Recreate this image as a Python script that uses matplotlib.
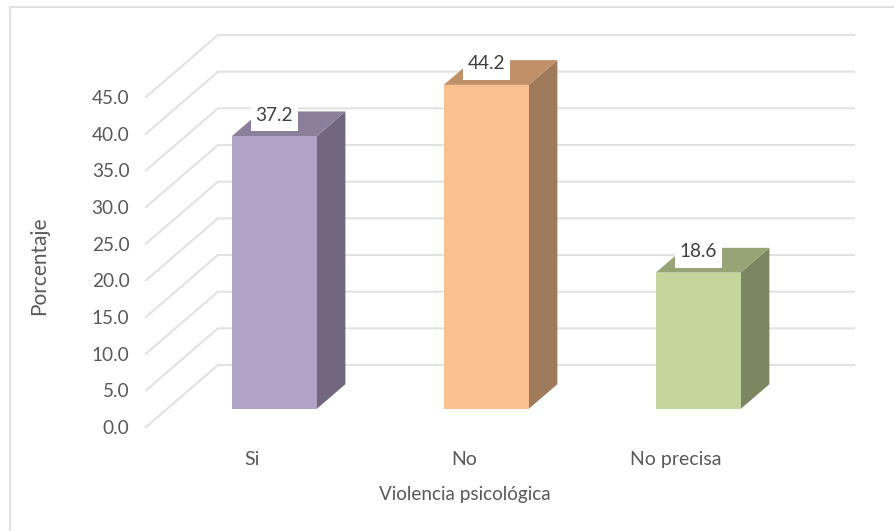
import matplotlib
matplotlib.use("Agg")
import matplotlib.pyplot as plt
from matplotlib.patches import Polygon, Rectangle

categories = ["Si", "No", "No precisa"]
values = [37.2, 44.2, 18.6]
y_ticks = [0, 5, 10, 15, 20, 25, 30, 35, 40, 45]

FRONT = ["#B3A2C7", "#FAC090", "#C3D69B"]
SIDE = ["#72677F", "#9F7B5C", "#7C8762"]
TOP = ["#8C7F9C", "#C09169", "#97A576"]
GRID = "#E2E2E2"
TEXT = "#595959"

W, H = 894, 531
plt.rcParams["font.family"] = ["Lato", "DejaVu Sans"]

fig = plt.figure(figsize=(W / 100, H / 100), dpi=100)
# axes box is the front plane of the 3D floor, in pixels
ax = fig.add_axes([146 / W, 1 - 427 / H, 636 / W, 330 / H])
ax.set_xlim(-0.5, 2.5)
ax.set_ylim(0, 45)
ax.patch.set_visible(False)
for s in ax.spines.values():
    s.set_visible(False)

px_x = 3 / 636      # one pixel in data units
px_y = 45 / 330

# depth of the whole plot, in data units
depth_x = 72 * px_x
depth_y = 62 * px_y
bar_w = 0.40
bar_z0 = 0.29   # bar front, as a fraction of the depth
bar_z1 = 0.69   # bar back
nudge = 1.3 * px_x

for t in y_ticks:
    ax.plot([-0.5, -0.5 + depth_x, 2.5 + depth_x], [t, t + depth_y, t + depth_y],
            color=GRID, lw=1.5, clip_on=False, zorder=1, solid_joinstyle="miter")

for i, v in enumerate(values):
    x0 = i - bar_w / 2 + bar_z0 * depth_x + nudge
    x1 = x0 + bar_w
    y0 = bar_z0 * depth_y
    y1 = y0 + v
    dx = (bar_z1 - bar_z0) * depth_x
    dy = (bar_z1 - bar_z0) * depth_y
    ax.add_patch(Polygon([(x1, y0), (x1 + dx, y0 + dy), (x1 + dx, y1 + dy), (x1, y1)],
                         fc=SIDE[i], ec="none", clip_on=False, zorder=3))
    ax.add_patch(Polygon([(x0, y1), (x0 + dx, y1 + dy), (x1 + dx, y1 + dy), (x1, y1)],
                         fc=TOP[i], ec="none", clip_on=False, zorder=3))
    ax.add_patch(Polygon([(x0, y0), (x1, y0), (x1, y1), (x0, y1)],
                         fc=FRONT[i], ec="none", clip_on=False, zorder=4))
    # white label box sits just above the front face
    xc = (x0 + x1) / 2
    ax.add_patch(Rectangle((xc - 23.5 * px_x, y1 + 5 * px_y), 47 * px_x, 32 * px_y,
                           fc="white", ec="none", clip_on=False, zorder=5))
    ax.text(xc, y1 + 21 * px_y, f"{v:.1f}", ha="center", va="center", fontsize=13.7,
            color="#404040", zorder=6)

ax.set_xticks(range(len(categories)))
ax.set_xticklabels(categories, fontsize=14, color=TEXT)
ax.set_yticks(y_ticks)
ax.set_yticklabels([f"{t:.1f}" for t in y_ticks], fontsize=13.7, color=TEXT)
ax.tick_params(axis="both", length=0)
ax.tick_params(axis="x", pad=17)
ax.tick_params(axis="y", pad=12)

ax.set_xlabel("Violencia psicológica", fontsize=13.6, color=TEXT)
ax.xaxis.set_label_coords(319 / 636, -59 / 330)
ax.set_ylabel("Porcentaje", fontsize=15, color=TEXT)
ax.yaxis.set_label_coords(-97 / 636, 0.49)

# chart frame, cropped at the bottom and right of the screenshot
fig.add_artist(plt.Line2D([10 / W, 10 / W, 1.0], [0, 1 - 7 / H, 1 - 7 / H],
                          color=GRID, lw=1.5))

fig.savefig("out.png", dpi=100, facecolor="white")
plt.close(fig)
